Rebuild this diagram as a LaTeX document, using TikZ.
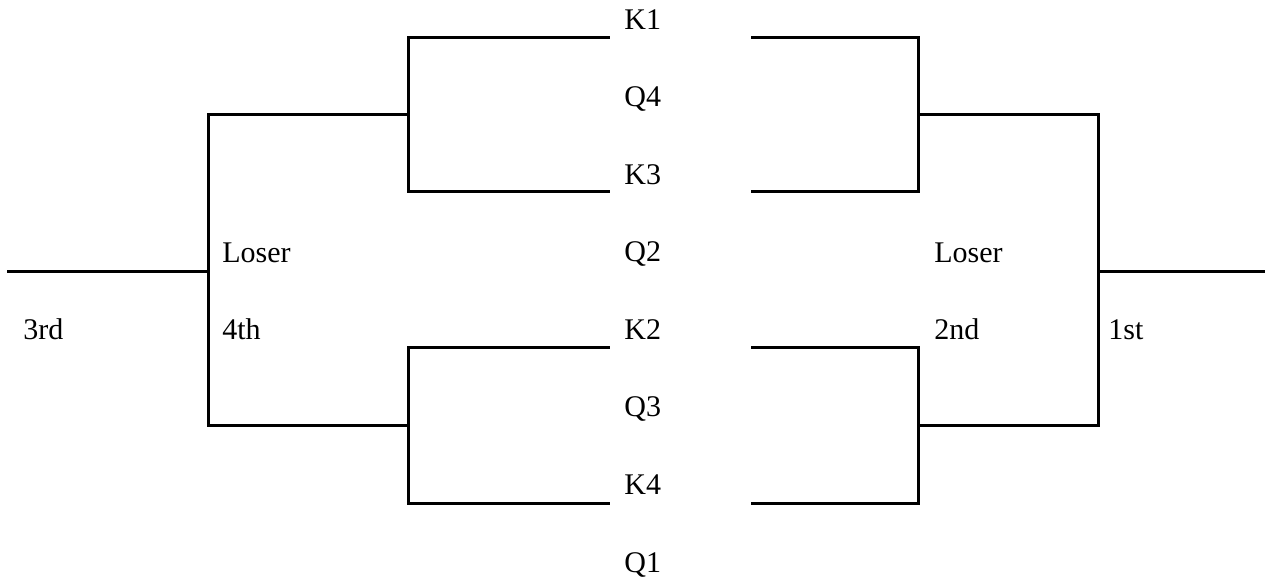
\documentclass[tikz,border=0pt]{standalone}
\usepackage{fontspec}
\setmainfont{Liberation Serif}
\tikzset{
  seed/.style={font=\fontsize{15}{18}\selectfont, inner sep=0pt, anchor=base west},
  bracket/.style={line width=1.5pt, line cap=rect},
}
\begin{document}
\begin{tikzpicture}[x=0.5pt, y=-0.5pt]
    \useasboundingbox (0,0) rectangle (1265,581);
    % seeds in the middle column
    \node[seed] (k1) at (624, 30) {K1};
    \node[seed] (q4) at (624,107) {Q4};
    \node[seed] (k3) at (624,185) {K3};
    \node[seed] (q2) at (624,262) {Q2};
    \node[seed] (k2) at (624,340) {K2};
    \node[seed] (q3) at (624,417) {Q3};
    \node[seed] (k4) at (624,495) {K4};
    \node[seed] (q1) at (624,573) {Q1};
    % places
    \node[seed] (lloser) at (222,263) {Loser};
    \node[seed] (fourth) at (222,340) {4th};
    \node[seed] (third) at (23,340) {3rd};
    \node[seed] (rloser) at (934,263) {Loser};
    \node[seed] (second) at (934,340) {2nd};
    \node[seed] (first) at (1108,340) {1st};
    % bracket end points
    \coordinate (la) at (608, 38);
    \coordinate (lb) at (608,192);
    \coordinate (lc) at (608,348);
    \coordinate (ld) at (608,504);
    \coordinate (ra) at (752, 38);
    \coordinate (rb) at (752,192);
    \coordinate (rc) at (752,348);
    \coordinate (rd) at (752,504);
    \coordinate (lsemi1) at (408,115);
    \coordinate (lsemi2) at (408,426);
    \coordinate (rsemi1) at (918,115);
    \coordinate (rsemi2) at (918,426);
    \coordinate (lend) at (8,272);
    \coordinate (rend) at (1265,272);
    % left side
    \draw[bracket] (la) -- (408,38) -- (408,192) -- (lb);
    \draw[bracket] (lc) -- (408,348) -- (408,504) -- (ld);
    \draw[bracket] (lsemi1) -- (208,115) -- (208,426) -- (lsemi2);
    \draw[bracket] (lend) -- (208,272);
    % right side
    \draw[bracket] (ra) -- (918,38) -- (918,192) -- (rb);
    \draw[bracket] (rc) -- (918,348) -- (918,504) -- (rd);
    \draw[bracket] (rsemi1) -- (1098,115) -- (1098,426) -- (rsemi2);
    \draw[bracket] (rend) -- (1098,272);
  \end{tikzpicture}
\end{document}
